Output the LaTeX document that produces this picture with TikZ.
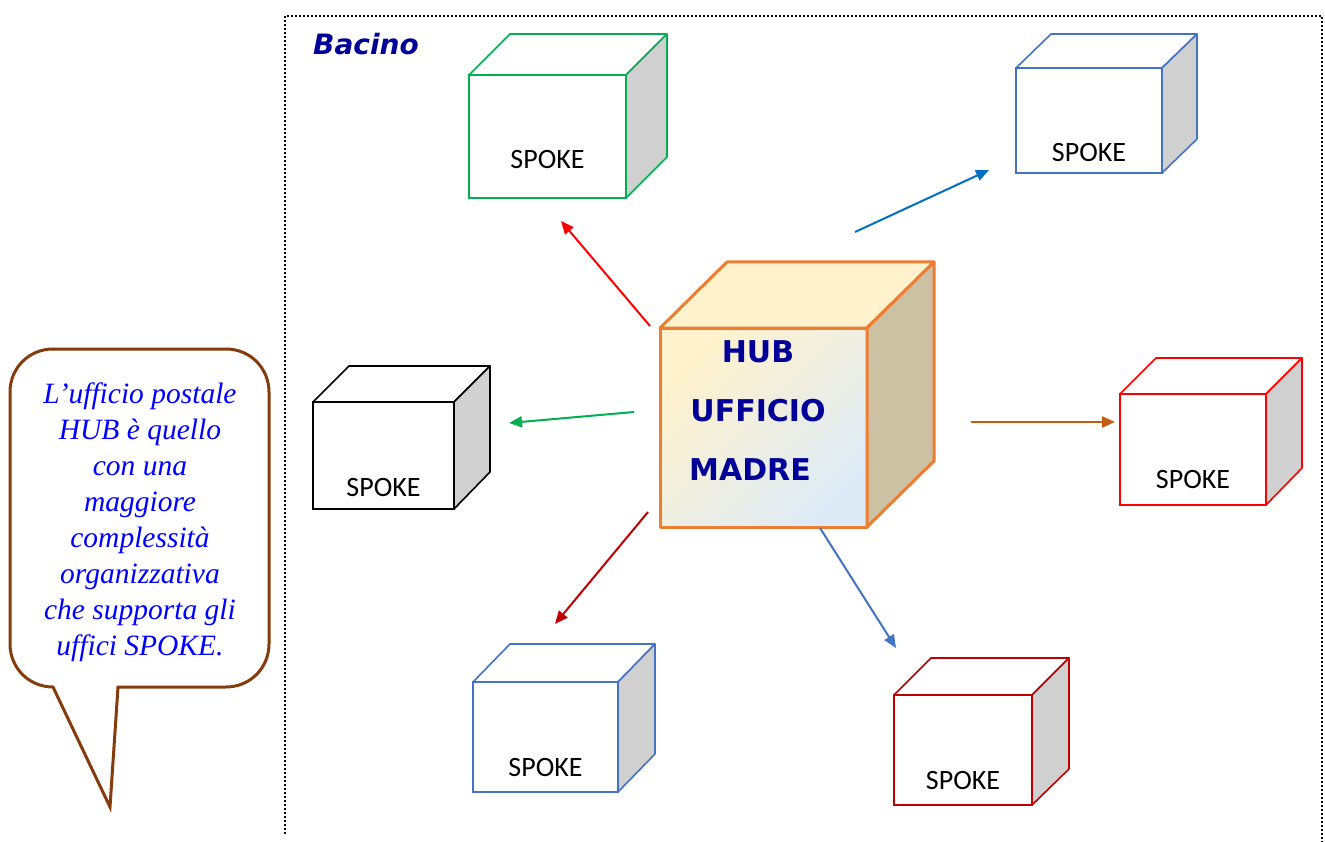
\documentclass[tikz,border=0pt]{standalone}
\usepackage{fontspec}
\setmainfont{Liberation Serif}
\newfontfamily\spokefont{Carlito}
\newfontfamily\verdana{DejaVu Sans}
\usetikzlibrary{arrows.meta}

\definecolor{spokegreen}{RGB}{0,176,80}
\definecolor{spokeblue}{RGB}{68,114,196}
\definecolor{spokered}{RGB}{255,0,0}
\definecolor{darkred}{RGB}{192,0,0}
\definecolor{arrowblue}{RGB}{0,112,192}
\definecolor{arrowbrown}{RGB}{197,90,17}
\definecolor{hubline}{RGB}{237,125,49}
\definecolor{hubtop}{RGB}{255,242,204}
\definecolor{hubside}{RGB}{204,194,163}
\definecolor{hubfront}{RGB}{222,235,247}
\definecolor{navy}{RGB}{0,0,153}
\definecolor{sidegray}{RGB}{208,208,208}
\definecolor{calloutbrown}{RGB}{132,60,12}

\begin{document}
\begin{tikzpicture}[x=1pt,y=-1pt,>={Triangle[length=13pt,width=11pt]},
  spoke/.style={rectangle,draw=#1,line width=1.6pt,fill=white,inner sep=0pt,outer sep=0pt,
    anchor=north west,text height=94pt,font=\spokefont\fontsize{28}{34}\selectfont},
  spoke face/.style={draw=#1,line width=1.6pt,line join=round,fill=white},
  hub face/.style={draw=hubline,line width=3pt,line join=round},
  arrow/.style={->,draw=#1,line width=2pt},
  frame/.style={line width=1.6pt,dash pattern=on 1.6pt off 2.4pt},
  callout/.style={draw=calloutbrown,line width=3pt,fill=white}]

  \useasboundingbox (0,0) rectangle (1325,842);

  % dotted frame of the basin
  \draw[frame] (285,834) -- (285,16) -- (1322,16) -- (1322,842);
  \node[anchor=base west,inner sep=0pt,text=navy,
    font=\verdana\bfseries\itshape\fontsize{28}{32}\selectfont] (bacino) at (313,55) {Bacino};

  % spoke offices
  \node[spoke=spokegreen,minimum width=157pt,text depth=29pt] (S1) at (469,75) {SPOKE};
  \draw[spoke face=spokegreen] (S1.north west) -- ++(41,-41) -- ++(157,0) -- (S1.north east) -- cycle;
  \draw[spoke face=spokegreen,fill=sidegray] (S1.north east) -- ++(41,-41) -- ++(0,123) -- (S1.south east) -- cycle;

  \node[spoke=spokeblue,minimum width=146pt,text depth=11pt] (S2) at (1016,68) {SPOKE};
  \draw[spoke face=spokeblue] (S2.north west) -- ++(35,-34) -- ++(146,0) -- (S2.north east) -- cycle;
  \draw[spoke face=spokeblue,fill=sidegray] (S2.north east) -- ++(35,-34) -- ++(0,105) -- (S2.south east) -- cycle;

  \node[spoke=black,minimum width=141pt,text depth=13pt] (S3) at (313,402) {SPOKE};
  \draw[spoke face=black] (S3.north west) -- ++(36,-36) -- ++(141,0) -- (S3.north east) -- cycle;
  \draw[spoke face=black,fill=sidegray] (S3.north east) -- ++(36,-36) -- ++(0,106) -- (S3.south east) -- cycle;

  \node[spoke=spokered,minimum width=146pt,text depth=17pt] (S4) at (1120,394) {SPOKE};
  \draw[spoke face=spokered] (S4.north west) -- ++(36,-36) -- ++(146,0) -- (S4.north east) -- cycle;
  \draw[spoke face=spokered,fill=sidegray] (S4.north east) -- ++(36,-36) -- ++(0,110) -- (S4.south east) -- cycle;

  \node[spoke=spokeblue,minimum width=145pt,text depth=16pt] (S5) at (473,682) {SPOKE};
  \draw[spoke face=spokeblue] (S5.north west) -- ++(37,-38) -- ++(145,0) -- (S5.north east) -- cycle;
  \draw[spoke face=spokeblue,fill=sidegray] (S5.north east) -- ++(37,-38) -- ++(0,110) -- (S5.south east) -- cycle;

  \node[spoke=darkred,minimum width=138pt,text depth=16pt] (S6) at (894,695) {SPOKE};
  \draw[spoke face=darkred] (S6.north west) -- ++(37,-37) -- ++(138,0) -- (S6.north east) -- cycle;
  \draw[spoke face=darkred,fill=sidegray] (S6.north east) -- ++(37,-37) -- ++(0,111) -- (S6.south east) -- cycle;

  % hub office
  \node[hub face,rectangle,anchor=north west,inner sep=0pt,outer sep=0pt,
    minimum width=207pt,minimum height=199pt,
    left color=hubtop,right color=hubfront,shading angle=45] (hub) at (660,328) {};
  \draw[hub face,fill=hubtop] (hub.north west) -- ++(67,-66) -- ++(207,0) -- (hub.north east) -- cycle;
  \draw[hub face,fill=hubside] (hub.north east) -- ++(67,-66) -- ++(0,199) -- (hub.south east) -- cycle;
  \node[anchor=base,align=center,inner sep=0pt,text=navy,
    font=\verdana\bfseries\fontsize{30}{59}\selectfont] (hublabel) at (758,480)
    {HUB\\UFFICIO\\MADRE\hspace*{16pt}};

  % arrows from the hub
  \coordinate (t1) at (650,326);  \coordinate (h1) at (561,221);
  \coordinate (t2) at (855,232);  \coordinate (h2) at (989,170);
  \coordinate (t3) at (634,412);  \coordinate (h3) at (509,423);
  \coordinate (t4) at (971,422);  \coordinate (h4) at (1115,422);
  \coordinate (t5) at (648,512);  \coordinate (h5) at (555,624);
  \coordinate (t6) at (820,528);  \coordinate (h6) at (896,648);
  \path (t1) edge[arrow=spokered] (h1)
        (t2) edge[arrow=arrowblue] (h2)
        (t3) edge[arrow=spokegreen] (h3)
        (t4) edge[arrow=arrowbrown] (h4)
        (t5) edge[arrow=darkred] (h5)
        (t6) edge[arrow=spokeblue] (h6);

  % speech bubble
  \draw[callout] (53,687) -- (110,807) -- (118,687) -- (226,687)
    .. controls (250,687) and (269,668) .. (269,644) -- (269,392)
    .. controls (269,368) and (250,349) .. (226,349) -- (53,349)
    .. controls (29,349) and (10,368) .. (10,392) -- (10,644)
    .. controls (10,668) and (29,687) .. (53,687) -- cycle;
  \node[anchor=base,align=center,inner sep=0pt,text=blue,
    font=\itshape\fontsize{29.5}{36}\selectfont] (note) at (140,655)
    {L’ufficio postale\\HUB è quello\\con una\\maggiore\\complessità\\organizzativa\\che supporta gli\\uffici SPOKE.};
\end{tikzpicture}
\end{document}
